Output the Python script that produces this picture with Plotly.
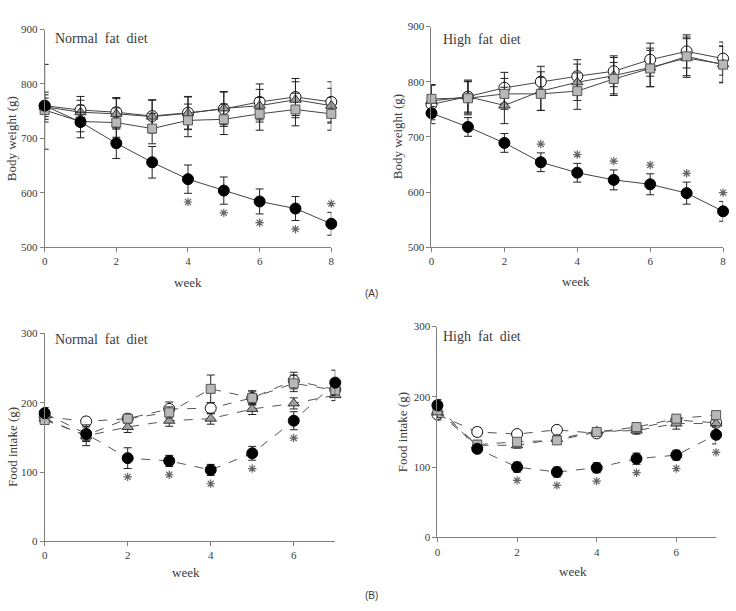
import plotly.graph_objects as go

W, H = 736, 611

# ---------------- data ----------------
weeks_bw = [0, 1, 2, 3, 4, 5, 6, 7, 8]
weeks_fi = [0, 1, 2, 3, 4, 5, 6, 7]

# (A) Body weight, normal fat diet
nfd_bw_black = [760, 730, 691, 656, 625, 604, 584, 571, 543]
nfd_bw_black_err = [20, 18, 28, 29, 26, 25, 23, 22, 21]
nfd_bw_white = [760, 752, 748, 741, 747, 754, 767, 776, 767]
nfd_bw_white_err = [25, 25, 27, 30, 30, 32, 33, 34, 37]
nfd_bw_tri = [758, 748, 745, 740, 746, 755, 760, 771, 760]
nfd_bw_tri_err = [78, 22, 28, 30, 30, 30, 30, 33, 32]
nfd_bw_sq = [752, 731, 729, 718, 733, 735, 745, 753, 745]
nfd_bw_sq_err = [22, 30, 27, 28, 30, 28, 30, 30, 30]
nfd_bw_star = ["", "", "", "", "below", "below", "below", "below", "above"]

# (A) Body weight, high fat diet
hfd_bw_black = [743, 718, 689, 654, 635, 622, 614, 598, 565]
hfd_bw_black_err = [12, 17, 17, 17, 17, 18, 19, 20, 18]
hfd_bw_white = [759, 773, 789, 800, 810, 819, 840, 855, 842]
hfd_bw_white_err = [35, 28, 28, 28, 30, 28, 30, 30, 30]
hfd_bw_tri = [765, 773, 757, 783, 799, 811, 826, 843, 832]
hfd_bw_tri_err = [30, 30, 33, 35, 33, 33, 35, 35, 33]
hfd_bw_sq = [769, 770, 778, 778, 783, 805, 824, 846, 831]
hfd_bw_sq_err = [25, 30, 28, 30, 33, 30, 33, 35, 33]
hfd_bw_star = ["", "", "", "above", "above", "above", "above", "above", "above"]

# (B) Food intake, normal fat diet
nfd_fi_black = [185, 155, 120, 116, 103, 127, 174, 229]
nfd_fi_black_err = [8, 10, 15, 8, 8, 10, 13, 18]
nfd_fi_white = [180, 173, 177, 191, 192, 207, 232, 219]
nfd_fi_white_err = [6, 6, 6, 10, 8, 10, 12, 8]
nfd_fi_tri = [177, 152, 165, 174, 177, 191, 199, 211]
nfd_fi_tri_err = [6, 8, 8, 8, 8, 8, 8, 8]
nfd_fi_sq = [175, 153, 177, 186, 220, 207, 228, 218]
nfd_fi_sq_err = [6, 15, 6, 8, 20, 10, 12, 8]
nfd_fi_star = ["", "", "below", "below", "below", "below", "below", ""]

# (B) Food intake, high fat diet
hfd_fi_black = [188, 126, 100, 93, 99, 112, 117, 146]
hfd_fi_black_err = [8, 5, 7, 7, 7, 8, 7, 13]
hfd_fi_white = [175, 150, 147, 153, 148, 155, 167, 163]
hfd_fi_white_err = [8, 6, 4, 4, 4, 4, 4, 4]
hfd_fi_tri = [178, 131, 131, 140, 151, 152, 162, 162]
hfd_fi_tri_err = [8, 5, 4, 5, 5, 5, 8, 5]
hfd_fi_sq = [181, 132, 136, 138, 150, 157, 169, 174]
hfd_fi_sq_err = [10, 6, 5, 5, 6, 5, 5, 5]
hfd_fi_star = ["", "", "below", "below", "below", "below", "below", "below"]

# ---------------- styling ----------------
SERIF = "Liberation Serif"
AXIS_COL = "#808080"
TXT_COL = "#3a3a3a"

marker_styles = {
    "white": dict(symbol="circle", size=11, color="white", line=dict(color="#111", width=1)),
    "tri": dict(symbol="triangle-up", size=10, color="#a0a0a0", line=dict(color="#333", width=1)),
    "sq": dict(symbol="square", size=9, color="#b8b8b8", line=dict(color="#555", width=1)),
    "black": dict(symbol="circle", size=11, color="black", line=dict(color="black", width=1)),
}

fig = go.Figure()


def add_panel(idx, x, series, star_dir, dash, yrange):
    xa = "x" if idx == 1 else f"x{idx}"
    ya = "y" if idx == 1 else f"y{idx}"
    line_col = "#444" if dash == "solid" else "#555"
    for key in ["white", "tri", "sq", "black"]:
        y, e = series[key]
        fig.add_trace(go.Scatter(
            x=x, y=y, mode="lines+markers", xaxis=xa, yaxis=ya,
            line=dict(color=line_col, width=1, dash=dash),
            marker=marker_styles[key],
            error_y=dict(type="data", array=e, color="#222", thickness=1, width=4),
            cliponaxis=False, showlegend=False,
        ))
    by, be = series["black"]
    pad = 0.04 * (yrange[1] - yrange[0])
    xs, ys = [], []
    for xi, m, er, s in zip(x, by, be, star_dir):
        if s == "below":
            xs.append(xi); ys.append(m - er - pad)
        elif s == "above":
            xs.append(xi); ys.append(m + er + pad)
    fig.add_trace(go.Scatter(
        x=xs, y=ys, mode="markers",
        marker=dict(symbol="asterisk-open", size=7, color="#666", line=dict(color="#666", width=1.2)),
        xaxis=xa, yaxis=ya, cliponaxis=False, showlegend=False,
    ))


BW_RANGE = [500, 900]
FI_RANGE = [0, 300]

add_panel(1, weeks_bw, {
    "black": (nfd_bw_black, nfd_bw_black_err), "white": (nfd_bw_white, nfd_bw_white_err),
    "tri": (nfd_bw_tri, nfd_bw_tri_err), "sq": (nfd_bw_sq, nfd_bw_sq_err)}, nfd_bw_star, "solid", BW_RANGE)
add_panel(2, weeks_bw, {
    "black": (hfd_bw_black, hfd_bw_black_err), "white": (hfd_bw_white, hfd_bw_white_err),
    "tri": (hfd_bw_tri, hfd_bw_tri_err), "sq": (hfd_bw_sq, hfd_bw_sq_err)}, hfd_bw_star, "solid", BW_RANGE)
add_panel(3, weeks_fi, {
    "black": (nfd_fi_black, nfd_fi_black_err), "white": (nfd_fi_white, nfd_fi_white_err),
    "tri": (nfd_fi_tri, nfd_fi_tri_err), "sq": (nfd_fi_sq, nfd_fi_sq_err)}, nfd_fi_star, "dash", FI_RANGE)
add_panel(4, weeks_fi, {
    "black": (hfd_fi_black, hfd_fi_black_err), "white": (hfd_fi_white, hfd_fi_white_err),
    "tri": (hfd_fi_tri, hfd_fi_tri_err), "sq": (hfd_fi_sq, hfd_fi_sq_err)}, hfd_fi_star, "dash", FI_RANGE)


def px_dom_x(a, b):
    return [a / W, b / W]


def px_dom_y(top, bottom):
    return [1 - bottom / H, 1 - top / H]


axis_common = dict(showline=True, linecolor=AXIS_COL, linewidth=1, ticks="outside",
                   ticklen=4, tickcolor=AXIS_COL, showgrid=False, zeroline=False,
                   tickfont=dict(family=SERIF, size=11, color=TXT_COL), fixedrange=True)

panels = {
    1: dict(xd=(42, 331), yd=(24, 246), xr=[0, 8], xt=[0, 2, 4, 6, 8], yr=BW_RANGE, yt=[500, 600, 700, 800, 900]),
    2: dict(xd=(432, 726), yd=(21, 246), xr=[0, 8], xt=[0, 2, 4, 6, 8], yr=BW_RANGE, yt=[500, 600, 700, 800, 900]),
    3: dict(xd=(42, 335), yd=(334, 546), xr=[0, 7], xt=[0, 2, 4, 6], yr=FI_RANGE, yt=[0, 100, 200, 300]),
    4: dict(xd=(438, 719), yd=(327, 542), xr=[0, 7], xt=[0, 2, 4, 6], yr=FI_RANGE, yt=[0, 100, 200, 300]),
}
lay = {}
for i, p in panels.items():
    xk = "xaxis" if i == 1 else f"xaxis{i}"
    yk = "yaxis" if i == 1 else f"yaxis{i}"
    ya_name = "y" if i == 1 else f"y{i}"
    xa_name = "x" if i == 1 else f"x{i}"
    lay[xk] = dict(axis_common, domain=px_dom_x(*p["xd"]), range=p["xr"], tickvals=p["xt"], anchor=ya_name)
    lay[yk] = dict(axis_common, domain=px_dom_y(*p["yd"]), range=p["yr"], tickvals=p["yt"], anchor=xa_name)

fig.update_layout(**lay)

ann = []


def add_text(text, x, y, size=13, angle=0, family=SERIF, xanchor="center"):
    ann.append(dict(text=text, x=x / W, y=1 - y / H, xref="paper", yref="paper",
                    showarrow=False, textangle=angle, xanchor=xanchor, yanchor="middle",
                    font=dict(family=family, size=size, color=TXT_COL)))


add_text("Normal  fat  diet", 50, 33, size=14, xanchor="left")
add_text("High  fat  diet", 442, 34, size=14, xanchor="left")
add_text("Normal  fat  diet", 50, 340, size=14, xanchor="left")
add_text("High  fat  diet", 442, 337, size=14, xanchor="left")
add_text("week", 187, 282, size=13)
add_text("week", 578, 281, size=13)
add_text("week", 184, 578, size=13)
add_text("week", 575, 577, size=13)
add_text("Body weight (g)", 8, 135, size=13, angle=-90)
add_text("Body weight (g)", 398, 133, size=13, angle=-90)
add_text("Food intake (g)", 9, 450, size=13, angle=-90)
add_text("Food intake (g)", 403, 435, size=13, angle=-90)
add_text("(A)", 372, 293, size=10, family="Liberation Sans")
add_text("(B)", 372, 601, size=10, family="Liberation Sans")

fig.update_layout(
    width=W, height=H, margin=dict(l=0, r=0, t=0, b=0),
    paper_bgcolor="white", plot_bgcolor="white", annotations=ann, showlegend=False,
)

fig.write_html("out.html")
